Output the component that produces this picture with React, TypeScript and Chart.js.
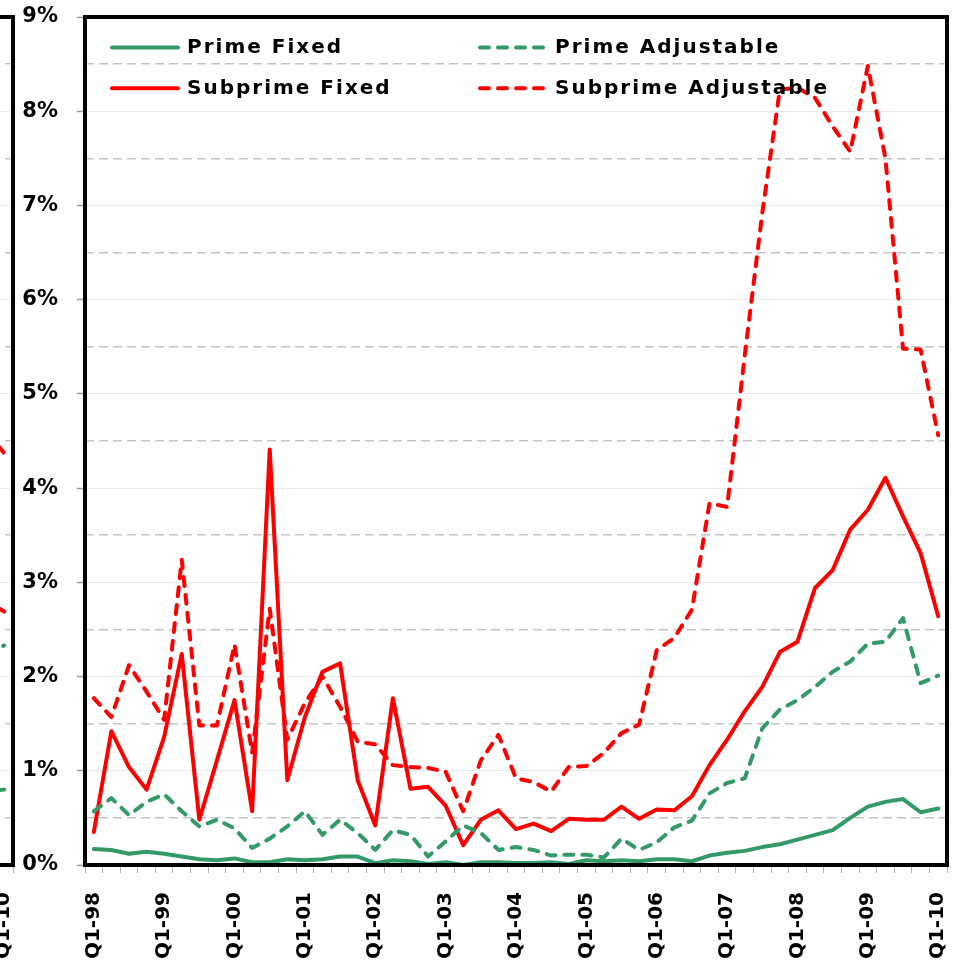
import { useEffect, useRef } from "react";
import { Chart, registerables } from "chart.js";

Chart.register(...registerables);

const categories = [
  "Q1-98", "Q2-98", "Q3-98", "Q4-98",
  "Q1-99", "Q2-99", "Q3-99", "Q4-99",
  "Q1-00", "Q2-00", "Q3-00", "Q4-00",
  "Q1-01", "Q2-01", "Q3-01", "Q4-01",
  "Q1-02", "Q2-02", "Q3-02", "Q4-02",
  "Q1-03", "Q2-03", "Q3-03", "Q4-03",
  "Q1-04", "Q2-04", "Q3-04", "Q4-04",
  "Q1-05", "Q2-05", "Q3-05", "Q4-05",
  "Q1-06", "Q2-06", "Q3-06", "Q4-06",
  "Q1-07", "Q2-07", "Q3-07", "Q4-07",
  "Q1-08", "Q2-08", "Q3-08", "Q4-08",
  "Q1-09", "Q2-09", "Q3-09", "Q4-09",
  "Q1-10",
];

const primeFixed = [
  0.17, 0.16, 0.12, 0.14, 0.12, 0.09, 0.06, 0.05, 0.07, 0.03, 0.03, 0.06,
  0.05, 0.06, 0.09, 0.09, 0.02, 0.05, 0.04, 0.01, 0.03, 0.0, 0.03, 0.03,
  0.02, 0.02, 0.03, 0.01, 0.05, 0.04, 0.05, 0.04, 0.06, 0.06, 0.04, 0.1,
  0.13, 0.15, 0.19, 0.22, 0.27, 0.32, 0.37, 0.5, 0.62, 0.67, 0.7, 0.56,
  0.6,
];

const primeAdjustable = [
  0.57, 0.71, 0.53, 0.67, 0.75, 0.57, 0.41, 0.48, 0.39, 0.18, 0.28, 0.41,
  0.57, 0.32, 0.48, 0.34, 0.16, 0.37, 0.32, 0.09, 0.25, 0.42, 0.34, 0.16,
  0.19, 0.16, 0.1, 0.11, 0.11, 0.08, 0.28, 0.16, 0.24, 0.4, 0.47, 0.76,
  0.87, 0.92, 1.45, 1.65, 1.75, 1.89, 2.05, 2.16, 2.35, 2.37, 2.62, 1.93,
  2.01,
];

const subprimeFixed = [
  0.35, 1.42, 1.04, 0.8, 1.36, 2.24, 0.48, 1.11, 1.75, 0.57, 4.41, 0.9,
  1.57, 2.05, 2.14, 0.9, 0.42, 1.77, 0.81, 0.83, 0.63, 0.21, 0.48, 0.58,
  0.38, 0.44, 0.36, 0.49, 0.48, 0.48, 0.62, 0.49, 0.59, 0.58, 0.73, 1.06,
  1.33, 1.63, 1.89, 2.26, 2.37, 2.94, 3.13, 3.56, 3.77, 4.11, 3.7, 3.31,
  2.64,
];

const subprimeAdjustable = [
  1.77, 1.57, 2.12, 1.84, 1.54, 3.24, 1.48, 1.48, 2.34, 1.19, 2.72, 1.33,
  1.72, 2.0, 1.68, 1.31, 1.28, 1.06, 1.04, 1.03, 0.99, 0.57, 1.11, 1.38,
  0.92, 0.88, 0.78, 1.04, 1.05, 1.19, 1.4, 1.49, 2.28, 2.41, 2.71, 3.84,
  3.8, 5.4, 6.92, 8.23, 8.25, 8.14, 7.84, 7.57, 8.48, 7.5, 5.48, 5.47,
  4.56,
];

// Last two quarters (Q4-09, Q1-10) of the neighbouring panel, cut off at the left edge
const leftPanelPrimeFixed = [0.78, 0.8];
const leftPanelPrimeAdjustable = [2.25, 2.33];
const leftPanelSubprimeFixed = [2.8, 2.69];
const leftPanelSubprimeAdjustable = [4.6, 4.37];

const seriesLabels = ["Prime Fixed", "Prime Adjustable", "Subprime Fixed", "Subprime Adjustable"];

const GREEN = "#339966";
const RED = "#ff0000";
const FONT = "'DejaVu Sans', Verdana, sans-serif";

const padTail = (vals: number[]) =>
  categories.map((_, i) => {
    const k = i - (categories.length - vals.length);
    return k >= 0 ? vals[k] : null;
  });

const framePlugin = {
  id: "frame",
  afterDraw(chart: any) {
    const { ctx, chartArea } = chart;
    const { left, top, right, bottom } = chartArea;
    ctx.save();
    ctx.setLineDash([]);
    ctx.lineWidth = 4;
    ctx.strokeStyle = "#000";
    ctx.strokeRect(left, top, right - left, bottom - top);
    ctx.restore();
  },
};

const insideLegendPlugin = {
  id: "insideLegend",
  afterDraw(chart: any, _args: any, opts: any) {
    if (!opts || !opts.show) return;
    const { ctx, chartArea } = chart;
    ctx.save();
    ctx.font = `bold 20px ${FONT}`;
    ctx.letterSpacing = "2px";
    ctx.textBaseline = "middle";
    ctx.textAlign = "left";
    const colOffsets = [27, 395];
    const rowOffsets = [30.5, 71.3];
    chart.data.datasets.forEach((ds: any, i: number) => {
      const col = i % 2;
      const row = Math.floor(i / 2);
      const x = chartArea.left + colOffsets[col];
      const y = chartArea.top + rowOffsets[row];
      ctx.beginPath();
      ctx.setLineDash(ds.borderDash || []);
      ctx.lineCap = "round";
      ctx.lineWidth = 4;
      ctx.strokeStyle = ds.borderColor;
      ctx.moveTo(x, y);
      ctx.lineTo(x + 66, y);
      ctx.stroke();
      ctx.setLineDash([]);
      ctx.fillStyle = "#000";
      ctx.fillText(ds.label, x + 75, y + 0.5);
    });
    ctx.restore();
  },
};

function makeDatasets(pf: any[], pa: any[], sf: any[], sa: any[]) {
  const base = {
    pointRadius: 0,
    pointHoverRadius: 0,
    borderWidth: 4,
    tension: 0,
    borderJoinStyle: "round" as const,
    spanGaps: false,
  };
  return [
    { ...base, label: seriesLabels[0], data: pf, borderColor: GREEN, backgroundColor: GREEN, borderCapStyle: "round" as const },
    { ...base, label: seriesLabels[1], data: pa, borderColor: GREEN, backgroundColor: GREEN, borderDash: [9, 9], borderCapStyle: "round" as const },
    { ...base, label: seriesLabels[2], data: sf, borderColor: RED, backgroundColor: RED, borderCapStyle: "round" as const },
    { ...base, label: seriesLabels[3], data: sa, borderColor: RED, backgroundColor: RED, borderDash: [9, 9], borderCapStyle: "round" as const },
  ];
}

function makeConfig(datasets: any[], showLegend: boolean): any {
  const isHalf = (c: any) => c && c.tick && Math.abs(c.tick.value % 1) > 0.01;
  return {
    type: "line",
    data: { labels: categories, datasets },
    options: {
      responsive: false,
      animation: false,
      events: [],
      layout: { padding: { left: 0, right: 9, top: 17, bottom: 0 } },
      plugins: {
        legend: { display: false },
        tooltip: { enabled: false },
        insideLegend: { show: showLegend },
      },
      scales: {
        x: {
          type: "category",
          offset: true,
          afterFit: (s: any) => {
            s.height = 100;
            s.paddingLeft = 0;
            s.paddingRight = 0;
          },
          grid: {
            offset: true,
            drawOnChartArea: false,
            drawTicks: true,
            tickLength: 8,
            tickColor: "#b3b3b3",
            tickWidth: 1,
          },
          border: { display: false },
          ticks: {
            autoSkip: false,
            minRotation: 90,
            maxRotation: 90,
            padding: 19,
            color: "#000",
            font: { family: FONT, size: 20, weight: "bold" },
            callback: (_v: any, idx: number) =>
              categories[idx].startsWith("Q1") ? categories[idx] : "",
          },
        },
        y: {
          min: 0,
          max: 9,
          afterFit: (s: any) => {
            s.width = 85;
            s.paddingTop = 0;
            s.paddingBottom = 0;
          },
          grid: {
            color: (c: any) => (isHalf(c) ? "#c4c4c4" : "#e8e8e8"),
            lineWidth: (c: any) => (isHalf(c) ? 1.5 : 1),
            tickLength: 8,
            tickColor: (c: any) => (isHalf(c) ? "rgba(0,0,0,0)" : "#9a9a9a"),
            tickWidth: 1.5,
          },
          border: {
            display: false,
            dash: (c: any) => (isHalf(c) ? [9, 5] : []),
          },
          ticks: {
            stepSize: 0.5,
            padding: 19,
            color: "#000",
            font: { family: FONT, size: 21, weight: "bold" },
            callback: (v: any) => (Math.abs(v % 1) < 0.01 ? `${Math.round(v)}%` : ""),
          },
        },
      },
    },
    plugins: [framePlugin, insideLegendPlugin],
  };
}

export default function App() {
  const mainRef = useRef<HTMLCanvasElement | null>(null);
  const leftRef = useRef<HTMLCanvasElement | null>(null);

  useEffect(() => {
    Chart.defaults.font.family = FONT;
    const charts: Chart[] = [];
    if (leftRef.current) {
      charts.push(
        new Chart(
          leftRef.current,
          makeConfig(
            makeDatasets(
              padTail(leftPanelPrimeFixed),
              padTail(leftPanelPrimeAdjustable),
              padTail(leftPanelSubprimeFixed),
              padTail(leftPanelSubprimeAdjustable)
            ),
            false
          )
        )
      );
    }
    if (mainRef.current) {
      charts.push(
        new Chart(
          mainRef.current,
          makeConfig(makeDatasets(primeFixed, primeAdjustable, subprimeFixed, subprimeAdjustable), true)
        )
      );
    }
    return () => charts.forEach((c) => c.destroy());
  }, []);

  return (
    <div style={{ position: "fixed", left: 0, top: 0, width: 956, height: 965, overflow: "hidden", background: "#fff" }}>
      <canvas
        ref={leftRef}
        width={956}
        height={965}
        style={{ position: "absolute", left: -934, top: 0, width: 956, height: 965 }}
      />
      <canvas
        ref={mainRef}
        width={956}
        height={965}
        style={{ position: "absolute", left: 0, top: 0, width: 956, height: 965 }}
      />
    </div>
  );
}
